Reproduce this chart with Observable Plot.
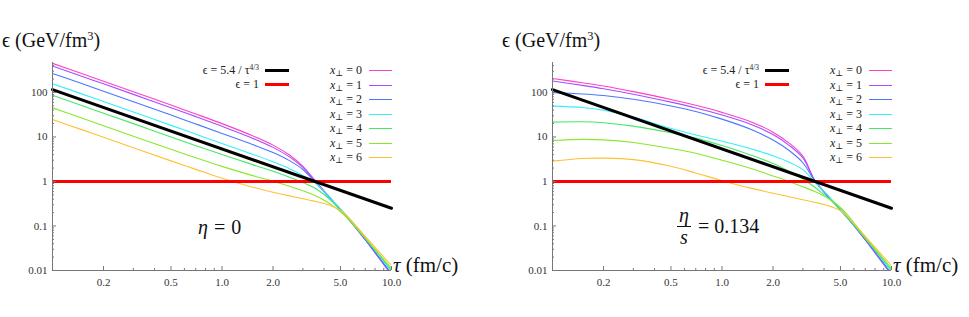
<!DOCTYPE html>
<html><head><meta charset="utf-8">
<script src="https://cdn.jsdelivr.net/npm/d3@7"></script>
<script src="https://cdn.jsdelivr.net/npm/@observablehq/plot@0.6"></script>
<style>
body{margin:0;background:#fff;}
#wrap{position:relative;width:969px;height:317px;font-family:"Liberation Serif","Times New Roman",Times,"DejaVu Serif","Noto Serif",serif;color:#111;overflow:hidden;}
.panel{position:absolute;top:0;width:469px;height:317px;}
.panel svg{position:absolute;left:0;top:0;}
.abs{position:absolute;white-space:nowrap;line-height:1;}
.leg{font-size:12px;color:#222;}
.sw{position:absolute;}
sup.s{font-size:0.62em;vertical-align:0.55em;line-height:0;}
sub.s{font-size:0.7em;vertical-align:-0.25em;line-height:0;}
</style></head><body><div id="wrap"></div>
<script>
// ---- data ----
const tau = [0.1,0.15,0.2,0.3,0.5,0.7,1,1.5,2,2.5,3,3.5,4,4.5,5,5.5,6,7,8,9,10];

// eta = 0 (ideal)
const ideal_x0 = [449,262,179,104,52,32.8,19.9,10.8,6.55,3.92,2.19,1.11,0.617,0.372,0.236,0.156,0.104,0.0497,0.0255,0.014,0.0081];
const ideal_x1 = [391,228,156,90.4,45.3,28.6,17.3,9.5,5.83,3.57,2.07,1.08,0.603,0.364,0.231,0.152,0.102,0.0485,0.0249,0.0137,0.0079];
const ideal_x2 = [267,156,106,61.8,31,19.6,12,6.84,4.45,2.94,1.86,1.02,0.582,0.356,0.228,0.152,0.103,0.0497,0.0258,0.0144,0.0084];
const ideal_x3 = [157,91.6,62.5,36.3,18.2,11.6,7.11,4.15,2.77,1.94,1.37,0.964,0.596,0.372,0.241,0.162,0.11,0.0543,0.0286,0.0161,0.0095];
const ideal_x4 = [86,50.1,34.2,19.9,9.95,6.37,4.02,2.42,1.69,1.25,0.95,0.721,0.509,0.342,0.226,0.152,0.104,0.0526,0.0288,0.0168,0.0103];
const ideal_x5 = [45,26.2,17.9,10.4,5.27,3.4,2.18,1.37,1.01,0.782,0.617,0.49,0.38,0.287,0.209,0.149,0.105,0.054,0.030,0.0179,0.0111];
const ideal_x6 = [24.7,14.4,9.84,5.71,2.9,1.87,1.18,0.753,0.573,0.474,0.41,0.362,0.319,0.274,0.222,0.164,0.114,0.0585,0.033,0.0201,0.0129];

// eta/s = 0.134 (viscous)
const visc_x0 = [206,165,139,104,69.3,51.3,35.6,21.5,12.8,7.16,3.72,1.12,0.589,0.363,0.236,0.156,0.104,0.0497,0.0255,0.014,0.0081];
const visc_x1 = [180,144,121,91.2,60.5,44.8,31.1,18.8,11.3,6.4,3.37,1.1,0.575,0.356,0.231,0.152,0.102,0.0485,0.0249,0.0137,0.0079];
const visc_x2 = [98,92.3,85.1,70,49.7,37.4,25.1,14.5,8.5,4.9,2.63,1.07,0.575,0.356,0.228,0.152,0.103,0.0497,0.0258,0.0144,0.0084];
const visc_x3 = [49.3,45.7,39.8,27.9,15.5,11.1,8.04,5.37,3.76,2.69,1.84,1.0,0.596,0.372,0.241,0.162,0.11,0.0543,0.0286,0.0161,0.0095];
const visc_x4 = [21.5,21.9,20.8,17.5,12.4,9.4,6.4,3.84,2.54,1.68,1.135,0.76,0.50,0.342,0.226,0.152,0.104,0.0526,0.0288,0.0168,0.0103];
const visc_x5 = [8.3,8.8,8.6,7.5,5.5,4.3,3.0,1.93,1.33,0.99,0.76,0.6,0.47,0.36,0.26,0.178,0.118,0.055,0.0305,0.0181,0.0112];
const visc_x6 = [2.86,3.29,3.34,3.1,2.2,1.55,1.04,0.70,0.545,0.455,0.39,0.342,0.304,0.265,0.222,0.164,0.114,0.0585,0.033,0.0201,0.0129];

// reference curves
const powerTau = [0.1, 10];
const powerEps = [116, 0.25];
const unitEps = [1];

// series names & colours
const xperpLabels = ["0","1","2","3","4","5","6"];
const curveColors = ["#ff3fc8","#a64dff","#4a78ff","#35eeff","#45e86a","#8ae82c","#ffc133"];

// ticks
const xTicks = [0.2,0.5,1,2,5,10];
const xTickLabels = ["0.2","0.5","1.0","2.0","5.0","10.0"];
const xMinor = [0.3,0.4,0.6,0.7,0.8,0.9,3,4,6,7,8,9];
const yTicks = [0.01,0.1,1,10,100];
const yTickLabels = ["0.01","0.1","1","10","100"];

// ---- drawing ----
const FONT = '"Liberation Serif","Times New Roman",Times,"DejaVu Serif","Noto Serif",serif';
const W = 469, H = 317, mL = 52, mR = 78, mT = 62, mB = 47;
const plotW = W - mL - mR, plotH = H - mT - mB;
const axisColor = "#777";

function yMinorTicks() {
  const out = [];
  for (const d of yTicks) for (let k = 2; k <= 9; k++) { const v = d * k; if (v <= 470) out.push(v); }
  return out;
}

function makePanel(curves, left, note) {
  const rows = curves.flatMap((vals, k) => vals.map((v, i) => ({tau: tau[i], eps: v, k})));
  const power = powerTau.map((t, i) => ({tau: t, eps: powerEps[i]}));
  const svg = Plot.plot({
    width: W, height: H,
    marginLeft: mL, marginRight: mR, marginTop: mT, marginBottom: mB,
    x: {type: "log", domain: [0.1, 10]},
    y: {type: "log", domain: [0.01, 470]},
    style: {fontFamily: FONT, fontSize: "11px", color: "#333", background: "transparent", overflow: "visible"},
    marks: [
      Plot.line(rows, {x: "tau", y: "eps", z: "k", stroke: d => curveColors[d.k], strokeWidth: 1.1, curve: "catmull-rom", clip: true}),
      Plot.ruleY(unitEps, {stroke: "#ff0000", strokeWidth: 3}),
      Plot.line(power, {x: "tau", y: "eps", stroke: "#000", strokeWidth: 3}),
      Plot.ruleX([0.1], {stroke: axisColor, strokeWidth: 1}),
      Plot.ruleY([0.01], {stroke: axisColor, strokeWidth: 1}),
      Plot.ruleX(xTicks, {stroke: axisColor, insetTop: plotH - 4}),
      Plot.ruleX(xMinor, {stroke: axisColor, insetTop: plotH - 2}),
      Plot.ruleY(yTicks, {stroke: axisColor, insetRight: plotW - 4}),
      Plot.ruleY(yMinorTicks(), {stroke: axisColor, insetRight: plotW - 2}),
      Plot.axisX({ticks: xTicks, tickFormat: d => xTickLabels[xTicks.indexOf(d)], tickSize: 0, tickPadding: 8, label: null}),
      Plot.axisY({ticks: yTicks, tickFormat: d => yTickLabels[yTicks.indexOf(d)], tickSize: 0, tickPadding: 5, label: null})
    ]
  });
  const panel = document.createElement("div");
  panel.className = "panel";
  panel.style.left = left + "px";
  panel.appendChild(svg);

  const add = (html, css) => {
    const d = document.createElement("div");
    d.className = "abs";
    d.innerHTML = html;
    Object.assign(d.style, css);
    panel.appendChild(d);
    return d;
  };
  // axis titles
  add('ϵ (GeV/fm<sup class="s">3</sup>)', {left: "2px", top: "30px", fontSize: "20px", color: "#111"});
  add('<i>τ</i> (fm/c)', {left: (W - mR + 2) + "px", top: (H - mB - 15) + "px", fontSize: "21px", color: "#111"});

  // legend: reference lines
  const frameRight = W - mR;
  const refRows = [
    {html: 'ϵ = 5.4 / τ<sup class="s">4/3</sup>', color: "#000"},
    {html: 'ϵ = 1', color: "#ff0000"}
  ];
  refRows.forEach((r, i) => {
    const cy = 70 + i * 14.3;
    add(r.html, {right: (W - (frameRight - 132)) + "px", top: (cy - 6) + "px"}).classList.add("leg");
    const s = document.createElement("div");
    s.className = "sw";
    Object.assign(s.style, {left: (frameRight - 126) + "px", top: (cy - 1.5) + "px", width: "24px", height: "3px", background: r.color});
    panel.appendChild(s);
  });
  // legend: x_perp series
  xperpLabels.forEach((lab, i) => {
    const cy = Math.round(70 + i * 14.5);
    add('<i>x</i><sub class="s">⊥</sub> = ' + lab, {right: (W - (frameRight - 29)) + "px", top: (cy - 6) + "px"}).classList.add("leg");
    const s = document.createElement("div");
    s.className = "sw";
    Object.assign(s.style, {left: (frameRight - 22) + "px", top: cy + "px", width: "23px", height: "1px", background: curveColors[i]});
    panel.appendChild(s);
  });

  add(note.html, note.css);
  document.getElementById("wrap").appendChild(panel);
}

makePanel([ideal_x0, ideal_x1, ideal_x2, ideal_x3, ideal_x4, ideal_x5, ideal_x6], 0,
  {html: '<i>η</i>&nbsp;=&nbsp;0', css: {left: "198px", top: "217px", fontSize: "20px", color: "#111", wordSpacing: "1px"}});

makePanel([visc_x0, visc_x1, visc_x2, visc_x3, visc_x4, visc_x5, visc_x6], 500,
  {html: '<span style="display:inline-flex;flex-direction:column;align-items:center;vertical-align:middle;"><span style="font-style:italic;border-bottom:1px solid #111;padding:0 2px 1px;">η</span><span style="font-style:italic;">s</span></span><span style="vertical-align:middle;margin-left:7px;">= 0.134</span>',
   css: {left: "177px", top: "205px", fontSize: "20px", color: "#111"}});
</script></body></html>
